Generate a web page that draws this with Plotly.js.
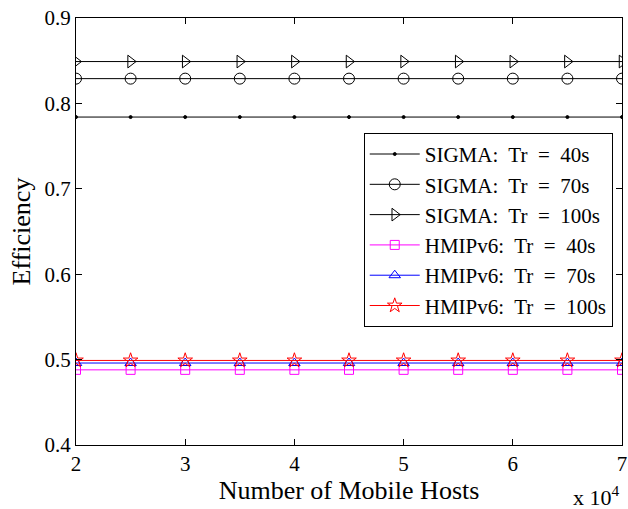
<!DOCTYPE html>
<html><head><meta charset="utf-8">
<script src="https://cdn.plot.ly/plotly-3.0.1.min.js"></script>
<style>body{margin:0;padding:0;background:#fff}</style>
</head><body><div id="chart" style="width:628px;height:509px"></div>
<script>
const hosts = [20000, 25000, 30000, 35000, 40000, 45000, 50000, 55000, 60000, 65000, 70000];
const sigma40 = [0.784,0.784,0.784,0.784,0.784,0.784,0.784,0.784,0.784,0.784,0.784];
const sigma70 = [0.829,0.829,0.829,0.829,0.829,0.829,0.829,0.829,0.829,0.829,0.829];
const sigma100 = [0.849,0.849,0.849,0.849,0.849,0.849,0.849,0.849,0.849,0.849,0.849];
const hmip40 = [0.488,0.488,0.488,0.488,0.488,0.488,0.488,0.488,0.488,0.488,0.488];
const hmip70 = [0.496,0.496,0.496,0.496,0.496,0.496,0.496,0.496,0.496,0.496,0.496];
const hmip100 = [0.499,0.499,0.499,0.499,0.499,0.499,0.499,0.499,0.499,0.499,0.499];
const seriesNames = ['SIGMA:\u00a0 Tr\u00a0 =\u00a0 40s', 'SIGMA:\u00a0 Tr\u00a0 =\u00a0 70s', 'SIGMA:\u00a0 Tr\u00a0 =\u00a0 100s',
  'HMIPv6:\u00a0 Tr\u00a0 =\u00a0 40s', 'HMIPv6:\u00a0 Tr\u00a0 =\u00a0 70s', 'HMIPv6:\u00a0 Tr\u00a0 =\u00a0 100s'];
const xTickVals = [20000,30000,40000,50000,60000,70000];
const xTickText = ['2','3','4','5','6','7'];
const yTickVals = [0.4,0.5,0.6,0.7,0.8,0.9];
const yTickText = ['0.4','0.5','0.6','0.7','0.8','0.9'];

const F = 'Liberation Serif, Times New Roman, serif';
function tr(y, name, color, symbol, size) {
  return {x: hosts, y: y, name: name, type: 'scatter', mode: 'lines+markers',
    line: {color: color, width: 1},
    marker: {symbol: symbol, size: size, color: color, line: {color: color, width: 1}}};
}
const data = [
  tr(sigma40, seriesNames[0], '#000', 'circle', 3),
  tr(sigma70, seriesNames[1], '#000', 'circle-open', 11),
  tr(sigma100, seriesNames[2], '#000', 'triangle-right-open', 11),
  tr(hmip40, seriesNames[3], '#ff00ff', 'square-open', 9),
  tr(hmip70, seriesNames[4], '#0000ff', 'triangle-up-open', 10),
  tr(hmip100, seriesNames[5], '#ff0000', 'star-open', 11)
];
const layout = {
  width: 628, height: 509,
  margin: {l: 76, r: 6, t: 18, b: 64},
  paper_bgcolor: '#fff', plot_bgcolor: '#fff',
  font: {family: F, size: 20, color: '#000'},
  showlegend: true,
  legend: {x: 0.527, y: 0.731, xanchor: 'left', yanchor: 'top',
    bgcolor: '#fff', bordercolor: '#000', borderwidth: 1, itemwidth: 50,
    font: {family: F, size: 21, color: '#000'}, tracegroupgap: 0},
  xaxis: {range: [20000, 70000], tickvals: xTickVals, ticktext: xTickText,
    showgrid: false, zeroline: false, showline: true, linecolor: '#000', linewidth: 1,
    mirror: 'ticks', ticks: 'inside', ticklen: 6, tickcolor: '#000',
    tickfont: {family: F, size: 21},
    title: {text: 'Number of Mobile Hosts', font: {family: F, size: 26}, standoff: 0}},
  yaxis: {range: [0.4, 0.9], tickvals: yTickVals, ticktext: yTickText,
    showgrid: false, zeroline: false, showline: true, linecolor: '#000', linewidth: 1,
    mirror: 'ticks', ticks: 'inside', ticklen: 6, tickcolor: '#000',
    tickfont: {family: F, size: 21},
    title: {text: 'Efficiency', font: {family: F, size: 26}, standoff: 6}},
  annotations: [{xref: 'paper', yref: 'paper', x: 1.0, y: -0.158, xanchor: 'right', yanchor: 'bottom',
    text: 'x 10<sup>4</sup>', showarrow: false, font: {family: F, size: 22}}]
};
Plotly.newPlot('chart', data, layout, {displayModeBar: false});
</script></body></html>
